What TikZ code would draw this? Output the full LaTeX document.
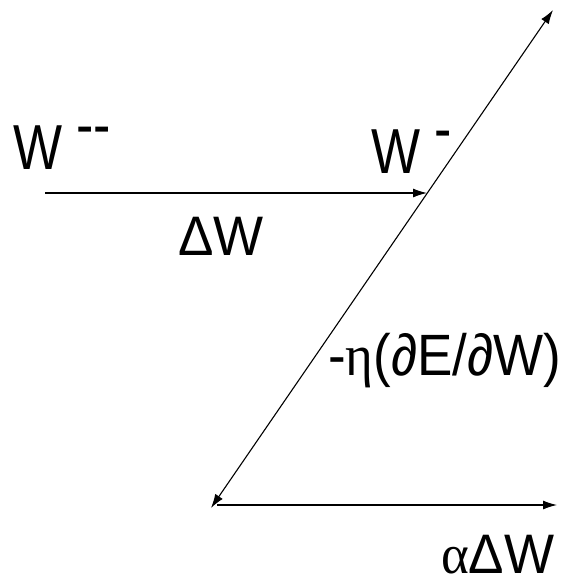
\documentclass[tikz,border=0pt]{standalone}
\usepackage{fontspec}
\setmainfont{Liberation Sans}
\newfontfamily\greekfont{Liberation Serif}
\usetikzlibrary{arrows.meta}

\begin{document}
\begin{tikzpicture}[x=1pt, y=-1pt,
    lbl/.style={inner sep=0pt, anchor=base west, font=\fontsize{53}{60}\selectfont},
    arrow/.style={-{Latex[length=14pt,width=9pt]}, line width=1.1pt},
    dblarrow/.style={{Latex[length=14pt,width=9pt]}-{Latex[length=14pt,width=9pt]}, line width=1.1pt}
]
    \useasboundingbox (0,0) rectangle (562,582);

    % end points of the update vectors
    \coordinate (wold) at (45,193);
    \coordinate (wcur) at (427,193);
    \coordinate (gradtip) at (553,10);
    \coordinate (gradlow) at (211,508);
    \coordinate (momstart) at (217,505);
    \coordinate (momend) at (557,505);

    \node (wpplbl) [lbl] at (13,169) {\scalebox{0.98}[1.2]{W\raisebox{.36em}{ -{}-}}};
    \node (wplbl) [lbl] at (371,173) {\scalebox{0.98}[1.2]{W\raisebox{.36em}{ -}}};
    \node (dwlbl) [lbl] at (178,255) {\scalebox{1}[1.05]{ΔW}};
    \node (gradlbl) [lbl] at (328,375) {\scalebox{1}[1.1]{-{\greekfont η}(∂E/∂W)}};
    \node (momlbl) [lbl] at (441,573) {\scalebox{1}[1.05]{{\greekfont α}ΔW}};

    \draw [arrow] (wold) -- (wcur);
    \draw [dblarrow] (gradlow) -- (gradtip);
    \draw [arrow] (momstart) -- (momend);
\end{tikzpicture}
\end{document}
